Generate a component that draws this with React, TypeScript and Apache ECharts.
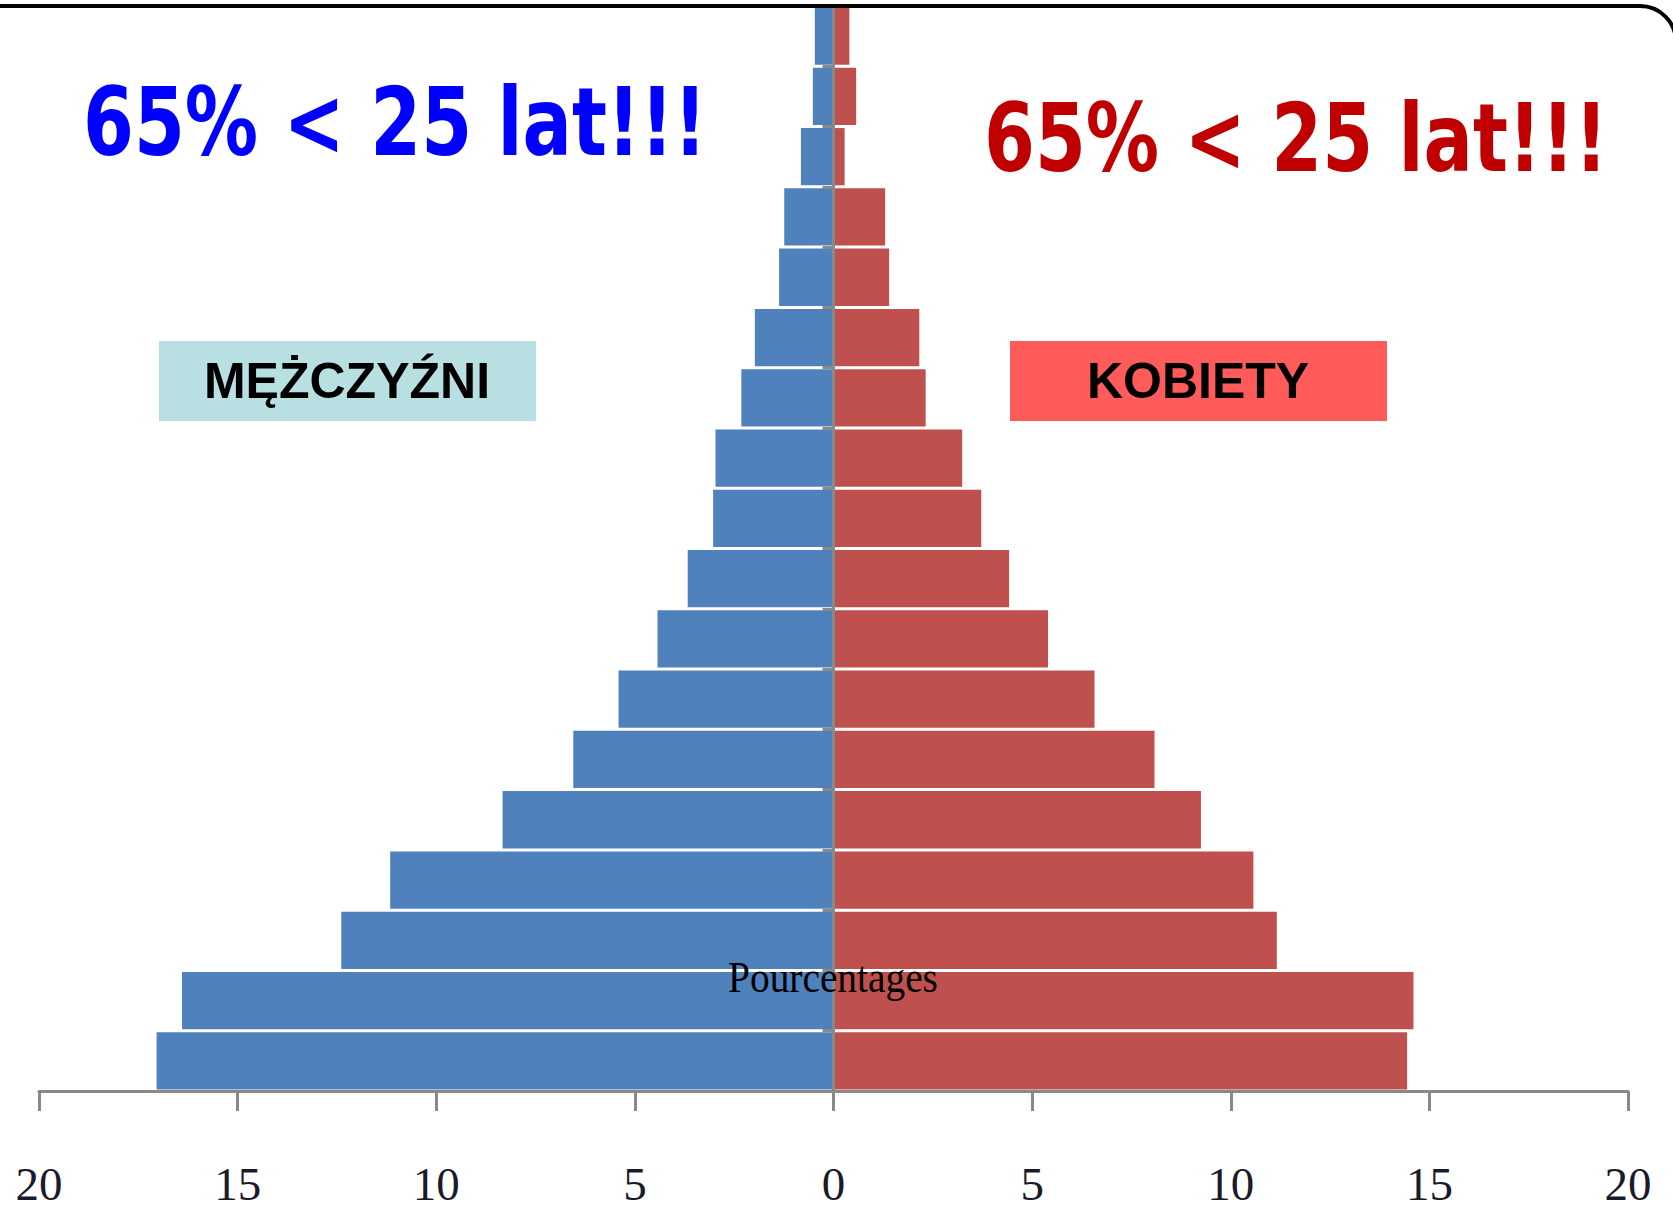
import React, { useEffect, useRef } from "react";
import * as echarts from "echarts";

// Age groups, bottom (youngest) to top (oldest)
const categories = [
  "0-4", "5-9", "10-14", "15-19", "20-24", "25-29", "30-34", "35-39", "40-44",
  "45-49", "50-54", "55-59", "60-64", "65-69", "70-74", "75-79", "80-84", "85+",
];

// Percentages
const maleValues = [
  17.04, 16.4, 12.39, 11.16, 8.33, 6.55, 5.41, 4.43, 3.67, 3.03, 2.97, 2.32,
  1.98, 1.37, 1.24, 0.82, 0.52, 0.47,
];
const femaleValues = [
  14.44, 14.6, 11.16, 10.57, 9.25, 8.08, 6.57, 5.4, 4.42, 3.72, 3.24, 2.32,
  2.16, 1.4, 1.3, 0.28, 0.57, 0.4,
];

const axisMin = -20;
const axisMax = 20;
const axisStep = 5;

const headline = "65% < 25 lat!!!";
const maleLabel = "MĘŻCZYŹNI";
const femaleLabel = "KOBIETY";
const axisTitle = "Pourcentages";

export default function App() {
  const ref = useRef<HTMLDivElement>(null);

  useEffect(() => {
    if (!ref.current) return;
    const chart = echarts.init(ref.current, null, { renderer: "svg" });
    const gray = "#898989";
    const option: any = {
      animation: false,
      backgroundColor: "#ffffff",
      grid: { left: 39, right: 45, top: 6, bottom: 122, containLabel: false },
      xAxis: {
        type: "value",
        min: axisMin,
        max: axisMax,
        interval: axisStep,
        z: 3,
        axisLine: { show: true, lineStyle: { color: gray, width: 3 } },
        axisTick: { show: true, length: 20, lineStyle: { color: gray, width: 3 } },
        splitLine: { show: false },
        axisLabel: {
          formatter: (v: number) => String(Math.abs(v)),
          fontFamily: "Liberation Serif",
          fontSize: 47,
          color: "#1a1a2a",
          margin: 69,
        },
      },
      yAxis: {
        type: "category",
        data: categories,
        z: 3,
        axisLine: { show: true, onZero: true, lineStyle: { color: gray, width: 3 } },
        axisTick: { show: true, length: 11, lineStyle: { color: gray, width: 3 } },
        axisLabel: { show: false },
        splitLine: { show: false },
      },
      series: [
        {
          name: "Mężczyźni",
          type: "bar",
          data: maleValues.map((v) => -v),
          barGap: "-100%",
          barCategoryGap: "5%",
          itemStyle: { color: "#4F81BD" },
        },
        {
          name: "Kobiety",
          type: "bar",
          data: femaleValues,
          barGap: "-100%",
          barCategoryGap: "5%",
          itemStyle: { color: "#C0504D" },
        },
      ],
      graphic: [
        {
          type: "rect",
          z: 100,
          silent: true,
          shape: { x: -40, y: 6, width: 1716, height: 1500, r: 36 },
          style: { fill: "none", stroke: "#000000", lineWidth: 4 },
        },
        {
          type: "text",
          z: 100,
          x: 83,
          y: 122,
          scaleX: 0.77,
          style: {
            text: headline,
            fill: "#0000FF",
            font: "bold 95px 'Comic Sans MS', 'DejaVu Sans', sans-serif",
            textAlign: "left",
            textVerticalAlign: "middle",
          },
        },
        {
          type: "text",
          z: 100,
          x: 984,
          y: 138,
          scaleX: 0.77,
          style: {
            text: headline,
            fill: "#C00000",
            font: "bold 95px 'Comic Sans MS', 'DejaVu Sans', sans-serif",
            textAlign: "left",
            textVerticalAlign: "middle",
          },
        },
        {
          type: "rect",
          z: 100,
          shape: { x: 159, y: 341, width: 377, height: 80 },
          style: { fill: "#B8DFE2" },
        },
        {
          type: "text",
          z: 101,
          x: 347,
          y: 381,
          style: {
            text: maleLabel,
            fill: "#000000",
            font: "bold 50px 'Liberation Sans', Arial, sans-serif",
            textAlign: "center",
            textVerticalAlign: "middle",
          },
        },
        {
          type: "rect",
          z: 100,
          shape: { x: 1010, y: 341, width: 377, height: 80 },
          style: { fill: "#FF5B5B" },
        },
        {
          type: "text",
          z: 101,
          x: 1198,
          y: 381,
          style: {
            text: femaleLabel,
            fill: "#000000",
            font: "bold 50px 'Liberation Sans', Arial, sans-serif",
            textAlign: "center",
            textVerticalAlign: "middle",
          },
        },
        {
          type: "text",
          z: 101,
          x: 833,
          y: 977,
          scaleX: 0.875,
          style: {
            text: axisTitle,
            fill: "#000000",
            font: "45px 'Liberation Serif', 'Times New Roman', serif",
            textAlign: "center",
            textVerticalAlign: "middle",
          },
        },
      ],
    };
    chart.setOption(option);
    return () => chart.dispose();
  }, []);

  return (
    <div
      ref={ref}
      style={{ position: "absolute", left: 0, top: 0, width: 1673, height: 1213, background: "#fff" }}
    />
  );
}
